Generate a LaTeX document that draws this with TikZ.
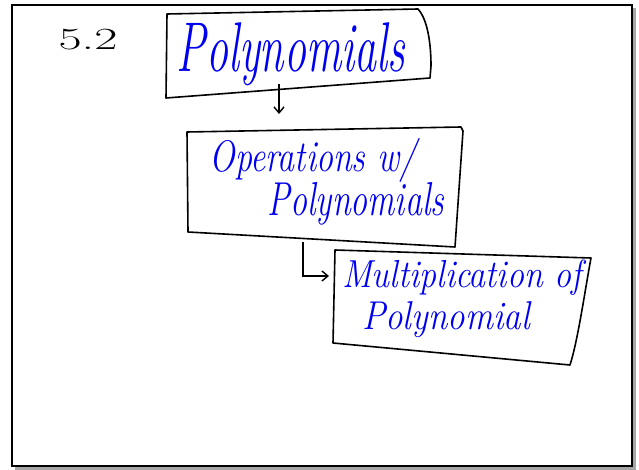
\documentclass[tikz,border=0pt]{standalone}
\usetikzlibrary{arrows.meta}
\definecolor{ink}{RGB}{0,0,240}
\tikzset{
  boxline/.style={draw=black, line width=1.6pt, line join=round, line cap=round},
  conn/.style={draw=black, line width=1.4pt, -{Straight Barb[length=6pt,width=10pt,line width=1.4pt]}},
  hand/.style={text=ink, font=\itshape, inner sep=0pt, anchor=center},
}
\begin{document}
\begin{tikzpicture}[x=1pt,y=-1pt]
\useasboundingbox (0,0) rectangle (639,470);
\fill[white] (0,0) rectangle (639,470);
% frame with shadow
\fill[gray!70] (15,466) rectangle (636,470);
\fill[gray!70] (632,8) rectangle (636,470);
\draw[line width=2pt] (12,5) rectangle (632,466);
% label
\node[font=\fontsize{28}{30}\selectfont, inner sep=0pt] (sec) at (88,40) {\scalebox{1.8}[1.1]{5.2}};
% box 1
\draw[boxline] (167,14) -- (418,9) .. controls (428,20) and (431,45) .. (431,66) -- (430,78) -- (166,98) -- cycle;
\coordinate (b1s) at (279,84);
\node[hand, font=\itshape\fontsize{44}{46}\selectfont] (t1) at (291,54) {\scalebox{1}[1.6]{Polynomials}};
% box 2
\draw[boxline] (187,132) -- (461,127) -- (463,131) -- (455,247) -- (188,232) -- cycle;
\coordinate (b2n) at (279,114);
\coordinate (b2s) at (303,242);
\node[hand, font=\itshape\fontsize{34}{36}\selectfont] (t2a) at (313,160) {\scalebox{1}[1.3]{Operations w/}};
\node[hand, font=\itshape\fontsize{34}{36}\selectfont] (t2b) at (356,204) {\scalebox{1}[1.4]{Polynomials}};
% box 3
\draw[boxline] (335,250) -- (591,258) .. controls (585,290) and (578,340) .. (570,365) -- (333,343) -- cycle;
\coordinate (bend) at (303,276);
\coordinate (b3w) at (329,276);
\node[hand, font=\itshape\fontsize{34}{36}\selectfont] (t3a) at (462,278) {\scalebox{1}[1.15]{Multiplication of}};
\node[hand, font=\itshape\fontsize{35}{37}\selectfont] (t3b) at (446,320) {\scalebox{1}[1.15]{Polynomial}};
% connectors
\draw[conn] (b1s) -- (b2n);
\draw[conn] (b2s) -- (bend) -- (b3w);
\end{tikzpicture}
\end{document}
